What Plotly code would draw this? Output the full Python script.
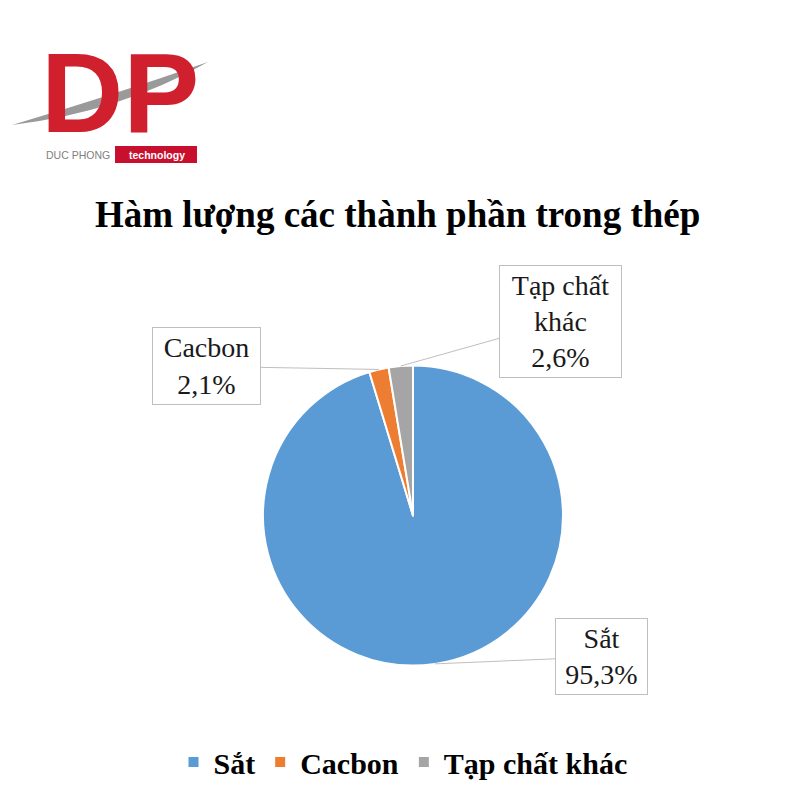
import math
import plotly.graph_objects as go

# ---- data ----
labels = ["Sắt", "Cacbon", "Tạp chất khác"]
values = [95.3, 2.1, 2.6]
label_texts = ["Sắt<br>95,3%", "Cacbon<br>2,1%", "Tạp chất<br>khác<br>2,6%"]
colors = ["#5B9BD5", "#ED7D31", "#A5A5A5"]
title_text = "Hàm lượng các thành phần trong thép"

W = H = 800
OFF = 8  # page body margin
def px(x, y):
    return (x - OFF) / W, 1 - (y - OFF) / H

# pie geometry (paper units)
cx, cy = px(413, 515.5)
r = 150 / W

fig = go.Figure()
fig.add_trace(go.Pie(
    labels=labels, values=values, sort=False, direction="clockwise", rotation=0,
    marker=dict(colors=colors, line=dict(color="white", width=2)),
    textinfo="none", hoverinfo="label+percent",
    domain=dict(x=[cx - r, cx + r], y=[cy - r, cy + r]),
))

# callout label boxes: tips computed from slice mid-angles
offsets = [(166, -7, 93, 77), (-172, -3, 109, 78), (160, -45, 123, 113)]
total = sum(values)
cum = 0
annotations = []
for i, v in enumerate(values):
    mid = (cum + v / 2) / total * 2 * math.pi
    cum += v
    tx = cx + r * math.sin(mid)
    ty = cy + r * math.cos(mid)
    ax, ay, bw, bh = offsets[i]
    annotations.append(dict(
        x=tx, y=ty, xref="paper", yref="paper", text=label_texts[i],
        showarrow=True, arrowhead=0, arrowwidth=1, arrowcolor="#BFBFBF",
        ax=ax, ay=ay, standoff=0,
        bordercolor="#BFBFBF", borderwidth=1, bgcolor="white", borderpad=0,
        width=bw - 2, height=bh - 2, align="center",
        font=dict(family="Liberation Serif", size=28, color="#1a1a1a"),
    ))

# title
tx_, ty_ = px(397, 214)
annotations.append(dict(
    x=tx_, y=ty_, xref="paper", yref="paper", showarrow=False,
    text="<b>" + title_text + "</b>",
    font=dict(family="Liberation Serif", size=37, color="black"),
    xanchor="center", yanchor="middle",
))

# logo
lx, ly = px(120, 93)
annotations.append(dict(
    x=lx, y=ly, xref="paper", yref="paper", showarrow=False,
    text="<b>DP</b>", font=dict(family="Liberation Sans", size=114, color="#D0202E"),
    xanchor="center", yanchor="middle",
))
dx, dy = px(111, 155)
annotations.append(dict(
    x=dx, y=dy, xref="paper", yref="paper", showarrow=False,
    text="DUC PHONG", font=dict(family="Liberation Sans", size=10.5, color="#808080"),
    xanchor="right", yanchor="middle", borderpad=0,
))
ex, ey = px(157, 154.5)
annotations.append(dict(
    x=ex, y=ey, xref="paper", yref="paper", showarrow=False,
    text="<b>technology</b>", font=dict(family="Liberation Sans", size=10.5, color="white"),
    xanchor="center", yanchor="middle", borderpad=0,
))

def pt(x, y):
    a, b = px(x, y)
    return f"{a:.4f},{b:.4f}"

x0, y1 = px(115, 146)
x1, y0 = px(197, 163)
shapes = [
    dict(type="path", xref="paper", yref="paper",
         path=f"M {pt(12,125)} Q {pt(110,96)} {pt(208,62)} Q {pt(120,112)} {pt(12,125)} Z",
         fillcolor="#9A9A9A", line=dict(width=0)),
    dict(type="rect", xref="paper", yref="paper",
         x0=x0, x1=x1, y0=y0, y1=y1,
         fillcolor="#C8102E", line=dict(width=0)),
]

lgx, lgy = px(403, 762)
fig.update_layout(
    width=W, height=H, margin=dict(l=0, r=0, t=0, b=0),
    paper_bgcolor="white", plot_bgcolor="white",
    showlegend=True,
    legend=dict(orientation="h", x=lgx, y=lgy, xanchor="center", yanchor="middle",
                font=dict(family="Liberation Serif", size=30, color="black", weight="bold"),
                itemsizing="constant", traceorder="normal"),
    annotations=annotations, shapes=shapes,
)

fig.write_html("out.html")
